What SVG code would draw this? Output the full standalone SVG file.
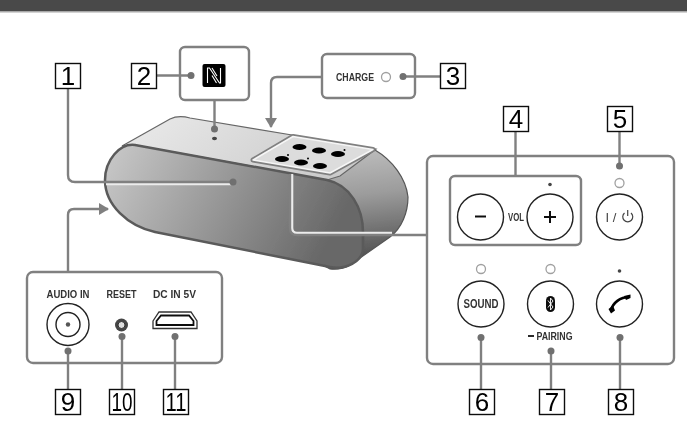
<svg xmlns="http://www.w3.org/2000/svg" width="687" height="423" viewBox="0 0 687 423">
<style>
.num{font-family:"Liberation Sans",Arial,sans-serif;font-size:26px;fill:#000;text-anchor:middle}
.lab{font-family:"Liberation Sans",Arial,sans-serif;font-weight:bold;font-size:10.5px;fill:#333;text-anchor:middle}
.box{fill:#fff;stroke:#111;stroke-width:1.4}
.panel{fill:#fff;stroke:#808080;stroke-width:2.4}
.conn{fill:none;stroke:#808080;stroke-width:2.4}
.halo{fill:none;stroke:#ececec;stroke-width:2.6}
.dot{fill:#707070}
.led{fill:#fff;stroke:#a0a0a0;stroke-width:1.3}
.btn{fill:#fff;stroke:#222;stroke-width:1.4}
.key{fill:#000}
</style>
<defs>
<linearGradient id="front" x1="0" y1="0" x2="1" y2="0.25"><stop offset="0" stop-color="#cacaca"/><stop offset="1" stop-color="#686868"/></linearGradient>
<linearGradient id="top" x1="0" y1="0" x2="1" y2="0.3"><stop offset="0" stop-color="#ebebeb"/><stop offset="1" stop-color="#cbcbcb"/></linearGradient>
<linearGradient id="cap" x1="0.3" y1="0" x2="0.5" y2="1"><stop offset="0" stop-color="#c4c4c4"/><stop offset="0.45" stop-color="#9c9c9c"/><stop offset="1" stop-color="#4c4c4c"/></linearGradient>
<marker id="arr" markerWidth="12" markerHeight="12" refX="9" refY="6" orient="auto" markerUnits="userSpaceOnUse"><path d="M0,0L10,6L0,12Z" fill="#808080"/></marker>
<filter id="soft" x="0" y="0" width="100%" height="100%"><feGaussianBlur stdDeviation="0.45"/></filter>
</defs>
<g filter="url(#soft)">
<rect x="0" y="0" width="687" height="423" fill="#fff"/>
<rect x="0" y="0" width="687" height="11" fill="#4a4a4a"/>
<rect x="0" y="11" width="687" height="1.500" fill="#a8a8a8"/>

<g id="speaker">
<path d="M330,269C340,270 345,268 350,265L390,237C402,228 408,212 408,197C406,178 392,160 375,150L340,160L200,200L330,269Z" fill="url(#cap)" stroke="#555" stroke-width="1.200"/>
<path d="M122,146L170,119C176,116 183,116 190,118L292,135L376,149L340,176L327,180L135,145Z" fill="url(#top)" stroke="#666" stroke-width="1.200"/>
<path d="M135,145L327,180C350,185 363,208 363,232V248C363,262 345,270 330,267L155,232C128,226 105,205 105,180C105,160 120,143 135,145Z" fill="url(#front)" stroke="#5a5a5a" stroke-width="2.500"/>
<path id="ring" d="M253,160L293,136.500L373,149.500L330,173Z" fill="#dcdcdc" stroke="#808080" stroke-width="5" stroke-linejoin="round"/>
<path d="M253,160L293,136.500L373,149.500L330,173Z" fill="#dcdcdc" stroke="#f6f6f6" stroke-width="1.500" stroke-linejoin="round"/>
<ellipse class="key" cx="299.500" cy="147" rx="7" ry="3"/>
<ellipse class="key" cx="319" cy="150.500" rx="7" ry="3"/>
<ellipse class="key" cx="338" cy="154" rx="7" ry="3"/>
<ellipse class="key" cx="282" cy="159" rx="7" ry="3"/>
<ellipse class="key" cx="301" cy="162.500" rx="7" ry="3"/>
<ellipse class="key" cx="320" cy="166" rx="7" ry="3"/>
<circle class="key" cx="288" cy="155" r="1"/><circle class="key" cx="308" cy="158.500" r="1"/><circle class="key" cx="344.500" cy="150" r="1"/>
<ellipse cx="214.500" cy="138.500" rx="2.500" ry="1.800" fill="#444"/>
</g>

<g id="nfc-panel">
<rect class="panel" x="180" y="47" width="69" height="53" rx="5"/>
<rect x="202.500" y="64" width="23" height="23" rx="2" fill="#000"/>
<path d="M207.500,83V68H209.500L219.500,83H220.500V68M212,75.500L216.500,83M212,68L217,76" fill="none" stroke="#fff" stroke-width="1.100"/>
</g>

<g id="charge-panel">
<rect class="panel" x="322" y="54" width="93" height="44" rx="5"/>
<text class="lab" x="355" y="80.500" textLength="38" lengthAdjust="spacingAndGlyphs">CHARGE</text>
<circle class="led" cx="386" cy="77" r="4.500"/>
</g>

<g id="control-panel">
<rect class="panel" x="427" y="156" width="247" height="208" rx="6"/>
<rect class="panel" x="450" y="176" width="131" height="69" rx="5"/>
<circle class="btn" cx="480.500" cy="217" r="23"/>
<path d="M475,216.500H486" stroke="#111" stroke-width="2"/>
<text class="lab" x="516" y="220.500" textLength="16" lengthAdjust="spacingAndGlyphs">VOL</text>
<circle class="btn" cx="550" cy="217" r="23"/>
<path d="M544,217H556M550,211V223" stroke="#111" stroke-width="2"/>
<circle cx="550" cy="184.500" r="1.800" fill="#444"/>
<circle class="led" cx="619.500" cy="183" r="4.500"/>
<circle class="btn" cx="619.500" cy="217" r="23"/>
<text x="611" y="222" font-family="Liberation Sans,Arial,sans-serif" font-size="13" fill="#444" text-anchor="middle">I /</text>
<path d="M624.500,213A5,5 0 1 0 631,213M627.700,210V216" fill="none" stroke="#444" stroke-width="1.200"/>
<circle class="led" cx="481" cy="269" r="4.500"/>
<circle class="btn" cx="481" cy="304" r="23"/>
<text class="lab" x="481" y="308" style="font-size:12px" textLength="35" lengthAdjust="spacingAndGlyphs">SOUND</text>
<circle class="led" cx="550.500" cy="269" r="4.500"/>
<circle class="btn" cx="550.500" cy="304" r="23"/>
<rect x="546" y="296" width="9" height="16" rx="4.500" fill="#111"/>
<path d="M548,300.500L553,307L550.500,310V298L553,301L548,307.500" fill="none" stroke="#fff" stroke-width="0.900"/>
<path d="M528,336H534" stroke="#111" stroke-width="1.800"/>
<text class="lab" x="554.500" y="340" textLength="36" lengthAdjust="spacingAndGlyphs">PAIRING</text>
<circle cx="619.500" cy="271" r="1.800" fill="#444"/>
<circle class="btn" cx="619.500" cy="304" r="23"/>
<path d="M611,310C613,303 620,297 629,297" fill="none" stroke="#000" stroke-width="2.600"/>
<path d="M608.500,309L613,305.500L615,310.500L611,313.500ZM624,296L630.500,294.500L630.500,298L626,300Z" fill="#000"/>
</g>

<g id="input-panel">
<rect class="panel" x="27" y="272" width="195" height="91" rx="6"/>
<text class="lab" x="68" y="298" textLength="43" lengthAdjust="spacingAndGlyphs">AUDIO IN</text>
<text class="lab" x="121.500" y="298" textLength="30" lengthAdjust="spacingAndGlyphs">RESET</text>
<text class="lab" x="174.500" y="298" textLength="43" lengthAdjust="spacingAndGlyphs">DC IN 5V</text>
<circle class="btn" cx="68" cy="324.500" r="21" stroke-width="1"/>
<circle class="btn" cx="68" cy="324.500" r="12"/>
<circle cx="68" cy="324.500" r="2.200" fill="#555"/>
<circle cx="121.500" cy="325" r="6.500" fill="#444"/>
<circle cx="121.500" cy="325" r="3.500" fill="#ddd" stroke="#333"/>
<path d="M153,321L159,312H191L197,321V328.500H153Z" fill="#fff" stroke="#333" stroke-width="1.300"/>
<path d="M156.500,321L161,315.500H189L193.500,321V325H156.500Z" fill="#fff" stroke="#111" stroke-width="1.800"/>
</g>

<g id="connectors">
<path class="halo" d="M106,184H231"/>
<path class="halo" d="M292,174V228Q292,233 297,233H392"/>
<path class="conn" d="M68,88V175Q68,182 75,182H233"/>
<path class="conn" d="M156,75.500H191"/>
<path class="conn" d="M214.500,100V129"/>
<path class="conn" d="M322,77H277Q271,77 271,83V127" marker-end="url(#arr)"/>
<path class="conn" d="M403,76.500H440"/>
<path class="conn" d="M68,272V215Q68,209 74,209H108" marker-end="url(#arr)"/>
<path class="conn" d="M427,235H297Q290,235 290,228V174"/>
<path class="conn" d="M515.500,131V176"/>
<path class="conn" d="M619.500,131V166"/>
<path class="conn" d="M481,337V389"/>
<path class="conn" d="M551,351V389"/>
<path class="conn" d="M620,337V389"/>
<path class="conn" d="M68,351V389"/>
<path class="conn" d="M122,336V389"/>
<path class="conn" d="M175,336V389"/>
<circle class="dot" cx="233" cy="182" r="3.500"/>
<circle class="dot" cx="191" cy="75.500" r="3.500"/>
<circle class="dot" cx="214.500" cy="129" r="3.500"/>
<circle class="dot" cx="403" cy="76.500" r="3.500"/>
<circle class="dot" cx="619.500" cy="166" r="3.500"/>
<circle class="dot" cx="481" cy="337.500" r="3.500"/>
<circle class="dot" cx="551" cy="351" r="3.500"/>
<circle class="dot" cx="620" cy="337.500" r="3.500"/>
<circle class="dot" cx="68" cy="351" r="3.500"/>
<circle class="dot" cx="122" cy="336.500" r="3.500"/>
<circle class="dot" cx="175" cy="336.500" r="3.500"/>
</g>

<g id="label-1"><rect class="box" x="55.500" y="63.500" width="25" height="25"/><text class="num" x="68" y="85">1</text></g>
<g id="label-2"><rect class="box" x="131.500" y="63.500" width="25" height="25"/><text class="num" x="144" y="85">2</text></g>
<g id="label-3"><rect class="box" x="440.500" y="63.500" width="25" height="25"/><text class="num" x="453" y="85">3</text></g>
<g id="label-4"><rect class="box" x="503.500" y="106.500" width="25" height="25"/><text class="num" x="516" y="128">4</text></g>
<g id="label-5"><rect class="box" x="607.500" y="106.500" width="25" height="25"/><text class="num" x="620" y="128">5</text></g>
<g id="label-6"><rect class="box" x="469.500" y="389.500" width="25" height="25"/><text class="num" x="482" y="411">6</text></g>
<g id="label-7"><rect class="box" x="539.500" y="389.500" width="25" height="25"/><text class="num" x="552" y="411">7</text></g>
<g id="label-8"><rect class="box" x="608.500" y="389.500" width="25" height="25"/><text class="num" x="621" y="411">8</text></g>
<g id="label-9"><rect class="box" x="55.500" y="389.500" width="25" height="25"/><text class="num" x="68" y="411">9</text></g>
<g id="label-10"><rect class="box" x="109.500" y="389.500" width="25" height="25"/><text class="num" x="122" y="411" textLength="21" lengthAdjust="spacingAndGlyphs">10</text></g>
<g id="label-11"><rect class="box" x="163.500" y="389.500" width="25" height="25"/><text class="num" x="176" y="411" textLength="21" lengthAdjust="spacingAndGlyphs">11</text></g>
</g>
</svg>
